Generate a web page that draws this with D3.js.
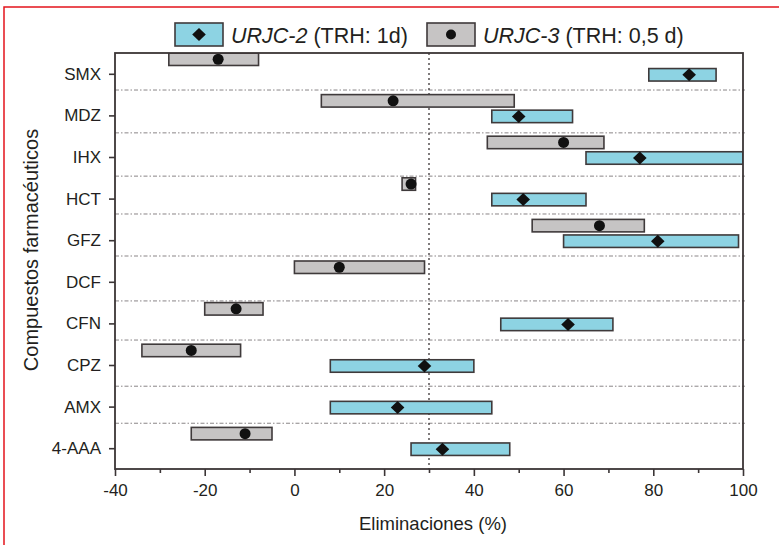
<!DOCTYPE html>
<html>
<head>
<meta charset="utf-8">
<script src="https://cdn.jsdelivr.net/npm/d3@7/dist/d3.min.js"></script>
<style>
  html, body { margin: 0; padding: 0; background: #fff; }
  svg { display: block; font-family: "Liberation Sans", Arial, sans-serif; }
</style>
</head>
<body>
<svg id="chart" width="779" height="545"></svg>
<script>
// ---- data ----
const categories = ["SMX", "MDZ", "IHX", "HCT", "GFZ", "DCF", "CFN", "CPZ", "AMX", "4-AAA"];
// URJC-2 (TRH: 1d) : range min, range max, marker value
const urjc2Min = [79, 44, 65, 44, 60, null, 46, 8, 8, 26];
const urjc2Max = [94, 62, 100, 65, 99, null, 71, 40, 44, 48];
const urjc2Val = [88, 50, 77, 51, 81, null, 61, 29, 23, 33];
// URJC-3 (TRH: 0,5 d)
const urjc3Min = [-28, 6, 43, 24, 53, 0, -20, -34, null, -23];
const urjc3Max = [-8, 49, 69, 27, 78, 29, -7, -12, null, -5];
const urjc3Val = [-17, 22, 60, 26, 68, 10, -13, -23, null, -11];
const xTicks = [-40, -20, 0, 20, 40, 60, 80, 100];
const xMinorTicks = [-30, -10, 10, 30, 50, 70, 90];
const separators = [9.61, 8.58, 7.54, 6.63, 5.62, 4.54, 3.60, 2.49, 1.60];
const refLine = 30;
const seriesNames = ["URJC-2", "URJC-3"];
const seriesSuffix = [" (TRH: 1d)", " (TRH: 0,5 d)"];

// ---- layout ----
const W = 779, H = 545;
const m = { left: 115, right: 36, top: 53, bottom: 76 };
const svg = d3.select("#chart");
const axisColor = "#3b3536";
const blue = "#8dd3e3";
const grey = "#c6c4c4";

const x = d3.scaleLinear().domain([-40, 100]).range([m.left, W - m.right]);
const y = d3.scaleLinear().domain([0.5, 10.5]).range([H - m.bottom, m.top]);
const pos = i => categories.length - i;
const barH = y(0) - y(0.3);
const greyOffset = 0.35;

// red frame
svg.append("path")
  .attr("d", `M4,${H} L4,7 L${W},7`)
  .attr("fill", "none").attr("stroke", "#e3141c").attr("stroke-width", 1.5);

const g = svg.append("g");

// separators
g.selectAll("line.sep").data(separators).join("line")
  .attr("class", "sep")
  .attr("x1", m.left).attr("x2", W - m.right + 2)
  .attr("y1", d => y(d)).attr("y2", d => y(d))
  .attr("stroke", "#8a8587").attr("stroke-width", 1)
  .attr("stroke-dasharray", "4,2,1.5,2");

// reference line
g.append("line")
  .attr("x1", x(refLine)).attr("x2", x(refLine))
  .attr("y1", m.top).attr("y2", H - m.bottom)
  .attr("stroke", "#3b3536").attr("stroke-width", 1.3)
  .attr("stroke-dasharray", "2,3");

// bars
const idx = d3.range(categories.length);
svg.append("clipPath").attr("id", "plotclip").append("rect")
  .attr("x", m.left).attr("y", m.top).attr("width", W - m.left - m.right).attr("height", H - m.top - m.bottom);
const bars = g.append("g").attr("clip-path", "url(#plotclip)");

bars.selectAll("rect.u3").data(idx.filter(i => urjc3Min[i] !== null)).join("rect")
  .attr("x", i => x(urjc3Min[i]))
  .attr("width", i => x(urjc3Max[i]) - x(urjc3Min[i]))
  .attr("y", i => y(pos(i) + greyOffset) - barH / 2)
  .attr("height", barH)
  .attr("fill", grey).attr("stroke", "#3f3a3b").attr("stroke-width", 1.6);

bars.selectAll("rect.u2").data(idx.filter(i => urjc2Min[i] !== null)).join("rect")
  .attr("x", i => x(urjc2Min[i]))
  .attr("width", i => x(urjc2Max[i]) - x(urjc2Min[i]))
  .attr("y", i => y(pos(i)) - barH / 2 + 1)
  .attr("height", barH)
  .attr("fill", blue).attr("stroke", "#3f3a3b").attr("stroke-width", 1.6);

const diamond = "M0,-6.5L6.8,0L0,6.5L-6.8,0Z";
g.selectAll("path.u2m").data(idx.filter(i => urjc2Val[i] !== null)).join("path")
  .attr("d", diamond)
  .attr("transform", i => `translate(${x(urjc2Val[i])},${y(pos(i)) + 1})`)
  .attr("fill", "#111");

g.selectAll("circle.u3m").data(idx.filter(i => urjc3Val[i] !== null)).join("circle")
  .attr("cx", i => x(urjc3Val[i]))
  .attr("cy", i => y(pos(i) + greyOffset))
  .attr("r", 5.5)
  .attr("fill", "#111");

// frame
g.append("rect")
  .attr("x", m.left).attr("y", m.top)
  .attr("width", W - m.left - m.right).attr("height", H - m.top - m.bottom)
  .attr("fill", "none").attr("stroke", axisColor).attr("stroke-width", 1.8);

// x axis
const xAxis = g.append("g").attr("transform", `translate(0,${H - m.bottom})`)
  .call(d3.axisBottom(x).tickValues(xTicks).tickSize(7).tickPadding(8).tickFormat(d => String(d)));
xAxis.select(".domain").remove();
xAxis.selectAll("line").attr("stroke", axisColor).attr("stroke-width", 1.6);
xAxis.selectAll("text").attr("font-size", 17).attr("fill", "#231f20");

const xMinor = g.append("g").attr("transform", `translate(0,${H - m.bottom})`)
  .call(d3.axisBottom(x).tickValues(xMinorTicks).tickSize(4).tickFormat(""));
xMinor.select(".domain").remove();
xMinor.selectAll("line").attr("stroke", axisColor).attr("stroke-width", 1.6);

// y axis
const yAxis = g.append("g").attr("transform", `translate(${m.left},0)`)
  .call(d3.axisLeft(y).tickValues(idx.map(pos)).tickSize(6).tickPadding(8)
    .tickFormat(v => categories[categories.length - v]));
yAxis.select(".domain").remove();
yAxis.selectAll("line").attr("stroke", axisColor).attr("stroke-width", 1.6);
yAxis.selectAll("text").attr("font-size", 17).attr("fill", "#231f20");

// axis titles
svg.append("text")
  .attr("x", (m.left + W - m.right) / 2 + 4).attr("y", 530)
  .attr("text-anchor", "middle").attr("font-size", 18.5).attr("fill", "#231f20")
  .text("Eliminaciones (%)");
svg.append("text")
  .attr("transform", `translate(38,250) rotate(-90)`)
  .attr("text-anchor", "middle").attr("font-size", 20).attr("fill", "#231f20")
  .text("Compuestos farmacéuticos");

// legend
const legendX = [175, 427];
const legendFill = [blue, grey];
seriesNames.forEach((name, k) => {
  const lg = svg.append("g").attr("transform", `translate(${legendX[k]},23)`);
  lg.append("rect").attr("width", 48).attr("height", 23)
    .attr("fill", legendFill[k]).attr("stroke", "#3f3a3b").attr("stroke-width", 1.6);
  if (k === 0) {
    lg.append("path").attr("d", diamond).attr("transform", "translate(24,11.5)").attr("fill", "#111");
  } else {
    lg.append("circle").attr("cx", 24).attr("cy", 11.5).attr("r", 5).attr("fill", "#111");
  }
  const t = lg.append("text").attr("x", 56).attr("y", 19.5).attr("font-size", 21.5).attr("fill", "#231f20");
  t.append("tspan").attr("font-style", "italic").text(name);
  t.append("tspan").text(seriesSuffix[k]);
});
</script>
</body>
</html>
